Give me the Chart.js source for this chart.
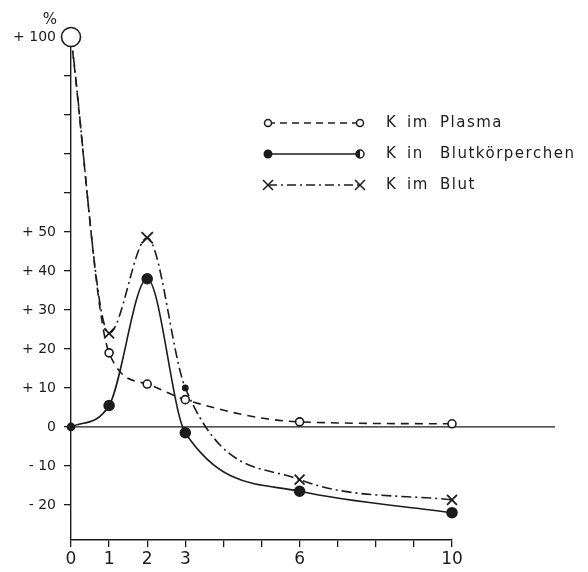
<!DOCTYPE html>
<html>
<head>
<meta charset="utf-8">
<script src="https://cdn.jsdelivr.net/npm/chart.js@4.4.1/dist/chart.umd.min.js"></script>
<style>
  html, body { margin: 0; padding: 0; background: #fff; }
  #wrap { width: 588px; height: 572px; }
</style>
</head>
<body>
<div id="wrap"><canvas id="kChart"></canvas></div>
<script>
// hours after dose, values in % of initial
const hours = [0, 1, 2, 3, 6, 10];
const plasma = [100, 19, 11, 7, 1.3, 0.8];
const cells = [0, 5.5, 38, -1.5, -16.5, -22];
const blood = [100, 24, 48.5, 10, -13.5, -18.7];
const seriesNames = [['K', 'im', 'Plasma'], ['K', 'in', 'Blutkörperchen'], ['K', 'im', 'Blut']];
const xTicks = [0, 1, 2, 3, 4, 5, 6, 7, 8, 9, 10];
const xTickLabels = ['0', '1', '2', '3', '', '', '6', '', '', '', '10'];
const yTicks = [-20, -10, 0, 10, 20, 30, 40, 50, 60, 70, 80, 90, 100];
const yTickLabels = ['- 20', '- 10', '0', '+ 10', '+ 20', '+ 30', '+ 40', '+ 50', '', '', '', '', '+ 100'];

const ink = '#1c1c1c';

// legend, zero line and % sign drawn by hand like the scan
const paperPlugin = {
  id: 'paper',
  beforeDatasetsDraw(chart) {
    const ctx = chart.ctx;
    const y0 = chart.scales.y.getPixelForValue(0);
    ctx.save();
    ctx.strokeStyle = ink;
    ctx.lineWidth = 1.3;
    ctx.beginPath();
    ctx.moveTo(chart.chartArea.left, y0);
    ctx.lineTo(555, y0);
    ctx.stroke();
    ctx.restore();
  },
  afterDraw(chart) {
    const ctx = chart.ctx;
    ctx.save();
    ctx.fillStyle = ink;
    ctx.font = '15px "DejaVu Sans"';
    ctx.textAlign = 'center';
    ctx.textBaseline = 'middle';
    ctx.fillText('%', 50, 20);

    const rows = [123, 154, 185];
    const x1 = 268, x2 = 360;
    ctx.strokeStyle = ink;
    ctx.lineWidth = 1.5;
    rows.forEach((y, i) => {
      ctx.setLineDash(i === 0 ? [7, 5] : i === 2 ? [9, 4, 2, 4] : []);
      ctx.beginPath();
      ctx.moveTo(x1, y);
      ctx.lineTo(x2, y);
      ctx.stroke();
      ctx.setLineDash([]);
      if (i === 0) {
        [x1, x2].forEach(x => {
          ctx.beginPath();
          ctx.arc(x, y, 3.5, 0, Math.PI * 2);
          ctx.fillStyle = '#fff';
          ctx.fill();
          ctx.stroke();
        });
      } else if (i === 1) {
        ctx.fillStyle = ink;
        ctx.beginPath();
        ctx.arc(x1, y, 4.5, 0, Math.PI * 2);
        ctx.fill();
        ctx.beginPath();
        ctx.arc(x2, y, 4, 0, Math.PI * 2);
        ctx.fillStyle = '#fff';
        ctx.fill();
        ctx.stroke();
        ctx.fillStyle = ink;
        ctx.beginPath();
        ctx.arc(x2, y, 4, Math.PI / 2, Math.PI * 1.5);
        ctx.fill();
      } else {
        [x1, x2].forEach(x => {
          ctx.beginPath();
          ctx.moveTo(x - 5, y - 5); ctx.lineTo(x + 5, y + 5);
          ctx.moveTo(x + 5, y - 5); ctx.lineTo(x - 5, y + 5);
          ctx.stroke();
        });
      }
      ctx.fillStyle = ink;
      ctx.font = '15px "DejaVu Sans"';
      ctx.letterSpacing = '1.5px';
      ctx.textAlign = 'left';
      ctx.fillText(seriesNames[i][0], 386, y);
      ctx.fillText(seriesNames[i][1], 407, y);
      ctx.fillText(seriesNames[i][2], 440, y);
      ctx.letterSpacing = '0px';
    });
    ctx.restore();
  }
};

new Chart(document.getElementById('kChart'), {
  type: 'line',
  data: {
    labels: hours,
    datasets: [
      {
        label: seriesNames[1].join(' '),
        data: hours.map((h, i) => ({ x: h, y: cells[i] })),
        borderColor: ink,
        borderWidth: 1.6,
        pointStyle: 'circle',
        pointRadius: [3.5, 5, 5, 5, 5, 5],
        pointBackgroundColor: ink,
        pointBorderColor: ink,
        cubicInterpolationMode: 'monotone',
        clip: false
      },
      {
        label: seriesNames[0].join(' '),
        data: hours.map((h, i) => ({ x: h, y: plasma[i] })),
        borderColor: ink,
        borderWidth: 1.6,
        borderDash: [8, 6],
        pointStyle: 'circle',
        pointRadius: [9.5, 4, 4, 4, 4, 4],
        pointBorderWidth: 1.6,
        pointBackgroundColor: '#fff',
        pointBorderColor: ink,
        cubicInterpolationMode: 'monotone',
        clip: false
      },
      {
        label: seriesNames[2].join(' '),
        data: hours.map((h, i) => ({ x: h, y: blood[i] })),
        borderColor: ink,
        borderWidth: 1.6,
        borderDash: [10, 4, 2, 4],
        pointStyle: ['crossRot', 'crossRot', 'crossRot', 'circle', 'crossRot', 'crossRot'],
        pointRadius: [9, 7, 8, 2.5, 7, 7],
        pointBorderWidth: 1.8,
        pointBackgroundColor: ink,
        pointBorderColor: ink,
        cubicInterpolationMode: 'monotone',
        clip: false
      }
    ]
  },
  options: {
    responsive: true,
    maintainAspectRatio: false,
    animation: false,
    layout: { padding: { top: 37, right: 136, left: 0, bottom: 0 } },
    plugins: {
      legend: { display: false },
      tooltip: { enabled: false }
    },
    scales: {
      x: {
        type: 'linear',
        min: 0,
        max: 10,
        afterBuildTicks: scale => { scale.ticks = xTicks.map(v => ({ value: v })); },
        afterFit: scale => { scale.height = 32; },
        border: { color: ink, width: 1.4 },
        grid: { drawOnChartArea: false, drawTicks: true, tickLength: 7, color: ink, lineWidth: 1.3 },
        ticks: {
          color: ink,
          padding: 2,
          maxRotation: 0,
          autoSkip: false,
          font: { size: 17, family: 'DejaVu Sans' },
          callback: (v, i) => xTickLabels[i]
        }
      },
      y: {
        type: 'linear',
        min: -29,
        max: 100,
        afterBuildTicks: scale => { scale.ticks = yTicks.map(v => ({ value: v })); },
        afterFit: scale => { scale.width = 71; },
        border: { color: ink, width: 1.4 },
        grid: { drawOnChartArea: false, drawTicks: true, tickLength: 7, color: ink, lineWidth: 1.3 },
        ticks: {
          color: ink,
          padding: 8,
          autoSkip: false,
          font: { size: 14, family: 'DejaVu Sans' },
          callback: (v, i) => yTickLabels[i]
        }
      }
    }
  },
  plugins: [paperPlugin]
});
</script>
</body>
</html>
